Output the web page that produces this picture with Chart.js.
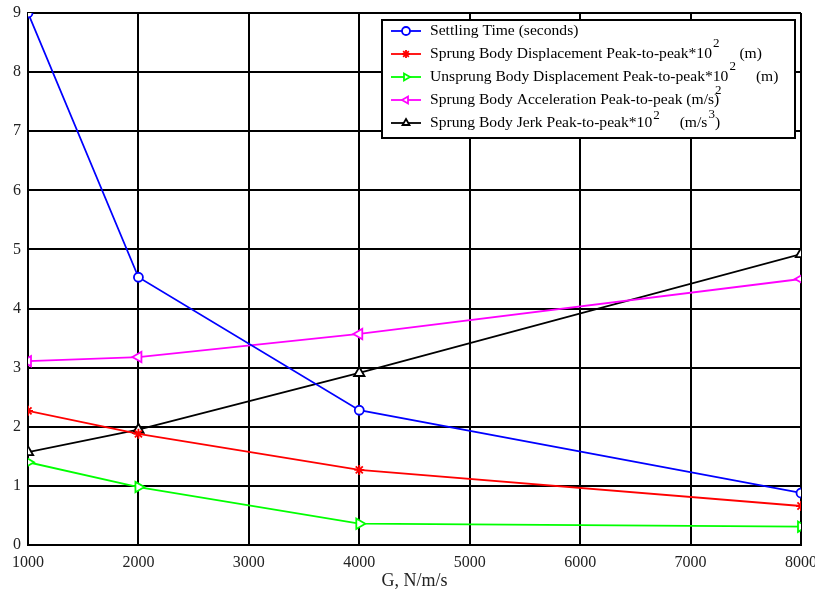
<!DOCTYPE html>
<html>
<head>
<meta charset="utf-8">
<script src="https://cdn.jsdelivr.net/npm/chart.js@4/dist/chart.umd.min.js"></script>
<style>
  html, body { margin: 0; padding: 0; background: #fff; }
  #chart { display: block; }
</style>
</head>
<body>
<canvas id="chart" width="815" height="592"></canvas>
<script>
const gains = [1000, 2000, 4000, 8000];
const settlingTime = [9.0, 4.53, 2.28, 0.88];
const sprungDisp = [2.27, 1.88, 1.27, 0.66];
const unsprungDisp = [1.40, 0.98, 0.36, 0.31];
const sprungAccel = [3.11, 3.18, 3.57, 4.50];
const sprungJerk = [1.57, 1.95, 2.91, 4.92];
const xTicks = [1000, 2000, 3000, 4000, 5000, 6000, 7000, 8000];
const yTicks = [0, 1, 2, 3, 4, 5, 6, 7, 8, 9];

// legend text pieces: plain runs, superscripts (with optional overlap) and fixed gaps
const legendItems = [
  [{ t: 'Settling Time (seconds)' }],
  [{ t: 'Sprung Body Displacement Peak-to-peak*10' }, { sup: '2', rise: 10 }, { gap: 20 }, { t: '(m)' }],
  [{ t: 'Unsprung Body Displacement Peak-to-peak*10' }, { sup: '2', rise: 10 }, { gap: 20 }, { t: '(m)' }],
  [{ t: 'Sprung Body Acceleration Peak-to-peak (m/s' }, { sup: '2', rise: 9, over: true }, { t: ')' }],
  [{ t: 'Sprung Body Jerk Peak-to-peak*10' }, { sup: '2', rise: 7 }, { gap: 20 }, { t: '(m/s' }, { sup: '3', rise: 8 }, { t: ')' }]
];

const serif = '"Liberation Serif", "DejaVu Serif", serif';
const toXY = ys => gains.map((g, i) => ({ x: g, y: ys[i] }));

function series(label, data, color, pointStyle, rotation, radius) {
  return {
    label, data: toXY(data),
    borderColor: color, backgroundColor: '#fff',
    pointBackgroundColor: '#fff',
    borderWidth: 1.8, pointRadius: radius || 5, pointBorderWidth: 1.8,
    pointStyle, pointRotation: rotation || 0, tension: 0
  };
}

const datasets = [
  series('Settling Time', settlingTime, '#0000ff', 'circle', 0, 4.5),
  series('Sprung Body Displacement', sprungDisp, '#ff0000', 'star', 0, 5),
  series('Unsprung Body Displacement', unsprungDisp, '#00ff00', 'triangle', 90, 6),
  series('Sprung Body Acceleration', sprungAccel, '#ff00ff', 'triangle', -90, 6),
  series('Sprung Body Jerk', sprungJerk, '#000000', 'triangle', 0, 6)
];

const boxLegend = {
  id: 'boxLegend',
  afterDraw(chart) {
    const ctx = chart.ctx;
    const left = 382, top = 20, right = 795, bottom = 138, rowH = 23;
    ctx.save();
    ctx.fillStyle = '#fff';
    ctx.fillRect(left, top, right - left, bottom - top);
    ctx.strokeStyle = '#000';
    ctx.lineWidth = 2;
    ctx.strokeRect(left, top, right - left, bottom - top);
    legendItems.forEach((parts, i) => {
      const ds = chart.data.datasets[i];
      const y = top + 11 + i * rowH;
      ctx.strokeStyle = ds.borderColor;
      ctx.fillStyle = '#fff';
      ctx.lineWidth = 1.8;
      ctx.beginPath();
      ctx.moveTo(391, y); ctx.lineTo(421, y);
      ctx.stroke();
      Chart.helpers.drawPoint(ctx, {
        pointStyle: ds.pointStyle, radius: 4, rotation: ds.pointRotation, borderWidth: 1.7
      }, 406, y);
      ctx.fillStyle = '#000';
      ctx.textBaseline = 'middle';
      let x = 430;
      parts.forEach(p => {
        if (p.gap) { x += p.gap; return; }
        if (p.sup) {
          ctx.font = '13px ' + serif;
          ctx.fillText(p.sup, x + 1, y - p.rise);
          if (!p.over) x += ctx.measureText(p.sup).width + 1;
          return;
        }
        ctx.font = '15.6px ' + serif;
        ctx.fillText(p.t, x, y);
        x += ctx.measureText(p.t).width;
      });
    });
    ctx.restore();
  }
};

new Chart(document.getElementById('chart'), {
  type: 'line',
  data: { datasets },
  options: {
    responsive: false,
    animation: false,
    layout: { padding: { top: 13, right: 14, left: 0, bottom: 0 } },
    plugins: { legend: { display: false }, tooltip: { enabled: false } },
    scales: {
      x: {
        type: 'linear', min: 1000, max: 8000,
        afterBuildTicks: s => { s.ticks = xTicks.map(v => ({ value: v })); },
        afterFit: s => { s.height = 47; s.paddingLeft = 0; s.paddingRight = 0; },
        grid: { color: '#000', lineWidth: 2, drawTicks: false },
        border: { color: '#000', width: 2 },
        ticks: { color: '#222', padding: 8, maxRotation: 0, font: { family: serif, size: 16 }, callback: v => String(v) },
        title: { display: true, text: 'G, N/m/s', color: '#222', padding: { top: 0, bottom: 0 }, font: { family: serif, size: 18 } }
      },
      y: {
        min: 0, max: 9,
        afterBuildTicks: s => { s.ticks = yTicks.map(v => ({ value: v })); },
        afterFit: s => { s.width = 28; s.paddingTop = 0; s.paddingBottom = 0; },
        grid: { color: '#000', lineWidth: 2, drawTicks: false },
        border: { color: '#000', width: 2 },
        ticks: { color: '#222', padding: 7, font: { family: serif, size: 16 }, callback: v => String(v) }
      }
    }
  },
  plugins: [boxLegend]
});
</script>
</body>
</html>
